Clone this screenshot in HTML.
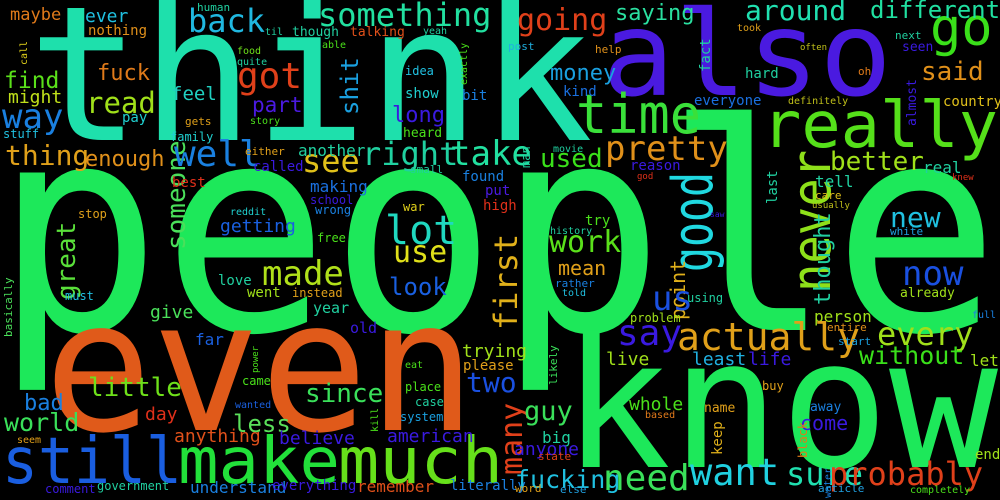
<!DOCTYPE html>
<html><head><meta charset="utf-8"><style>
html,body{margin:0;padding:0;background:#000;overflow:hidden;}
svg{display:block}
text{font-family:"DejaVu Sans Mono","Liberation Mono",monospace;}
</style></head><body>
<svg width="1000" height="500" viewBox="0 0 1000 500">
<rect width="1000" height="500" fill="#000"/>
<g>
<text x="-6" y="330" font-size="288" fill="#1de85a" textLength="1006" lengthAdjust="spacingAndGlyphs">people</text>
<text x="28" y="140" font-size="188" fill="#1ee0ac" textLength="565" lengthAdjust="spacingAndGlyphs">think</text>
<text x="562" y="467" font-size="180" fill="#1de85a" textLength="436" lengthAdjust="spacingAndGlyphs">know</text>
<text x="44" y="430" font-size="182" fill="#e05a1a" textLength="432" lengthAdjust="spacingAndGlyphs">even</text>
<text x="602" y="95" font-size="118" fill="#4a1ae0" textLength="290" lengthAdjust="spacingAndGlyphs">also</text>
<text x="762" y="147" font-size="64" fill="#55e01a" textLength="236" lengthAdjust="spacingAndGlyphs">really</text>
<text x="2" y="483" font-size="64" fill="#1a5ee0" textLength="180" lengthAdjust="spacingAndGlyphs">still</text>
<text x="178" y="483" font-size="64" fill="#22e03a" textLength="162" lengthAdjust="spacingAndGlyphs">make</text>
<text x="338" y="483" font-size="64" fill="#66e01a" textLength="165" lengthAdjust="spacingAndGlyphs">much</text>
<text x="576" y="133" font-size="54" fill="#3ae03a" textLength="125" lengthAdjust="spacingAndGlyphs">time</text>
<text transform="translate(830,292) rotate(-90)" font-size="54" fill="#8ee01a" textLength="142" lengthAdjust="spacingAndGlyphs">never</text>
<text transform="translate(712,272) rotate(-90)" font-size="56" fill="#20d8e0" textLength="100" lengthAdjust="spacingAndGlyphs">good</text>
<text x="930" y="45" font-size="52" fill="#3ae01a">go</text>
<text transform="translate(517,330) rotate(-90)" font-size="32" fill="#e0b01a">first</text>
<text transform="translate(522,475) rotate(-90)" font-size="30" fill="#e0401a">many</text>
<text transform="translate(185,250) rotate(-90)" font-size="26" fill="#4ae05a">someone</text>
<text transform="translate(75,300) rotate(-90)" font-size="26" fill="#5ae03a">great</text>
</g>
<g>
<text x="10" y="20" font-size="17" fill="#e07a1a">maybe</text>
<text x="85" y="22" font-size="18" fill="#20c0e0">ever</text>
<text x="88" y="35" font-size="14" fill="#e0901a">nothing</text>
<text x="197" y="11" font-size="11" fill="#20d0a0">human</text>
<text x="188" y="32" font-size="32" fill="#20b8e0">back</text>
<text x="318" y="26" font-size="32" fill="#22e0a0">something</text>
<text x="237" y="88" font-size="36" fill="#e0401a">got</text>
<text x="292" y="36" font-size="13" fill="#20d0a0">though</text>
<text x="350" y="36" font-size="13" fill="#e0501a">talking</text>
<text x="265" y="35" font-size="10" fill="#20d0a0">til</text>
<text x="423" y="34" font-size="10" fill="#20d0a0">yeah</text>
<text x="237" y="54" font-size="10" fill="#6ee01a">food</text>
<text x="237" y="65" font-size="10" fill="#20d0a0">quite</text>
<text x="322" y="48" font-size="10" fill="#4ae01a">able</text>
<text x="4" y="88" font-size="23" fill="#5ae01a">find</text>
<text x="97" y="80" font-size="22" fill="#e07a1a">fuck</text>
<text transform="translate(27,65) rotate(-90)" font-size="10" fill="#e0d01a">call</text>
<text x="8" y="103" font-size="18" fill="#c0e01a">might</text>
<text x="86" y="113" font-size="29" fill="#a0e01a">read</text>
<text x="2" y="128" font-size="34" fill="#1a80e0">way</text>
<text x="171" y="100" font-size="19" fill="#20d0c0">feel</text>
<text x="252" y="112" font-size="21" fill="#4a1ae0">part</text>
<text transform="translate(358,115) rotate(-90)" font-size="24" fill="#1aa0e0">shit</text>
<text x="392" y="122" font-size="22" fill="#3a1ae0">long</text>
<text x="405" y="98" font-size="14" fill="#20d0d0">show</text>
<text x="462" y="100" font-size="14" fill="#1a80e0">bit</text>
<text x="405" y="75" font-size="12" fill="#20c0e0">idea</text>
<text transform="translate(467,85) rotate(-90)" font-size="10" fill="#4ae01a">exactly</text>
<text x="122" y="122" font-size="14" fill="#20d0d0">pay</text>
<text x="3" y="138" font-size="12" fill="#20c0e0">stuff</text>
<text x="185" y="125" font-size="11" fill="#e0a01a">gets</text>
<text x="170" y="141" font-size="12" fill="#20d0d0">family</text>
<text x="250" y="124" font-size="10" fill="#4ae01a">story</text>
<text x="403" y="137" font-size="13" fill="#4ae01a">heard</text>
<text x="5" y="165" font-size="28" fill="#e0a01a">thing</text>
<text x="85" y="166" font-size="22" fill="#e0901a">enough</text>
<text x="174" y="166" font-size="36" fill="#1a80e0">well</text>
<text x="302" y="172" font-size="32" fill="#e0c01a">see</text>
<text x="362" y="165" font-size="32" fill="#20d0a0">right</text>
<text x="450" y="165" font-size="34" fill="#22e0a0">take</text>
<text x="245" y="155" font-size="11" fill="#e0a01a">either</text>
<text x="298" y="156" font-size="16" fill="#20d0a0">another</text>
<text x="253" y="171" font-size="14" fill="#3a1ae0">called</text>
<text x="172" y="187" font-size="14" fill="#e0301a">best</text>
<text x="310" y="192" font-size="16" fill="#1a70e0">making</text>
<text x="410" y="173" font-size="11" fill="#20d0a0">small</text>
<text x="462" y="181" font-size="14" fill="#1a80e0">found</text>
<text x="485" y="195" font-size="14" fill="#4a1ae0">put</text>
<text x="483" y="210" font-size="14" fill="#e0301a">high</text>
<text x="310" y="204" font-size="12" fill="#3a1ae0">school</text>
<text x="315" y="214" font-size="12" fill="#1a80e0">wrong</text>
<text x="230" y="215" font-size="10" fill="#20d0d0">reddit</text>
<text x="403" y="211" font-size="12" fill="#e0d01a">war</text>
<text x="78" y="218" font-size="12" fill="#e0a01a">stop</text>
<text x="220" y="232" font-size="18" fill="#1a60e0">getting</text>
<text x="317" y="242" font-size="12" fill="#4ae01a">free</text>
<text x="385" y="244" font-size="40" fill="#20d8c0">lot</text>
<text x="517" y="30" font-size="30" fill="#e0401a">going</text>
<text x="615" y="20" font-size="22" fill="#2ae0a0">saying</text>
<text x="745" y="20" font-size="28" fill="#20e0b0">around</text>
<text x="870" y="18" font-size="24" fill="#20e0a0">different</text>
<text x="508" y="50" font-size="11" fill="#20b0e0">post</text>
<text x="595" y="53" font-size="11" fill="#e0901a">help</text>
<text x="737" y="31" font-size="10" fill="#e0a01a">took</text>
<text x="895" y="39" font-size="11" fill="#20d0a0">next</text>
<text x="902" y="51" font-size="13" fill="#3a1ae0">seen</text>
<text transform="translate(710,72) rotate(-90)" font-size="14" fill="#20d0a0">fact</text>
<text x="550" y="80" font-size="22" fill="#1aa0e0">money</text>
<text x="745" y="78" font-size="14" fill="#20d0a0">hard</text>
<text x="858" y="75" font-size="11" fill="#e07a1a">oh</text>
<text x="921" y="80" font-size="26" fill="#e0901a">said</text>
<text x="563" y="96" font-size="14" fill="#1a70e0">kind</text>
<text x="800" y="50" font-size="9" fill="#c0c01a">often</text>
<text transform="translate(916,126) rotate(-90)" font-size="13" fill="#3a1ae0">almost</text>
<text x="694" y="105" font-size="14" fill="#1a70e0">everyone</text>
<text x="788" y="104" font-size="10" fill="#c0c01a">definitely</text>
<text x="943" y="106" font-size="14" fill="#e0c01a">country</text>
<text x="605" y="160" font-size="34" fill="#e0901a">pretty</text>
<text x="540" y="167" font-size="26" fill="#3ae01a">used</text>
<text x="553" y="152" font-size="10" fill="#20d0a0">movie</text>
<text x="630" y="170" font-size="14" fill="#3a1ae0">reason</text>
<text transform="translate(530,168) rotate(-90)" font-size="12" fill="#20d0a0">man</text>
<text x="637" y="179" font-size="9" fill="#e0301a">god</text>
<text x="830" y="170" font-size="26" fill="#a0e01a">better</text>
<text x="923" y="173" font-size="16" fill="#20d0a0">real</text>
<text x="815" y="187" font-size="16" fill="#20d0a0">tell</text>
<text transform="translate(777,204) rotate(-90)" font-size="14" fill="#20d0a0">last</text>
<text x="952" y="180" font-size="9" fill="#e0301a">knew</text>
<text x="815" y="199" font-size="11" fill="#e0c01a">care</text>
<text x="812" y="208" font-size="9" fill="#c0c01a">usually</text>
<text x="710" y="217" font-size="8" fill="#3a1ae0">saw</text>
<text x="890" y="227" font-size="28" fill="#20c0e0">new</text>
<text x="890" y="235" font-size="11" fill="#20a0e0">white</text>
<text x="585" y="225" font-size="14" fill="#4ae01a">try</text>
<text x="550" y="234" font-size="10" fill="#20d0a0">history</text>
<text x="549" y="252" font-size="30" fill="#5ae01a">work</text>
<text x="393" y="262" font-size="30" fill="#e0e01a">use</text>
<text x="389" y="295" font-size="24" fill="#1a60e0">look</text>
<text x="262" y="285" font-size="34" fill="#b0e01a">made</text>
<text x="218" y="285" font-size="14" fill="#20d0a0">love</text>
<text x="65" y="300" font-size="12" fill="#20c0e0">must</text>
<text x="247" y="297" font-size="14" fill="#a0e01a">went</text>
<text x="292" y="297" font-size="12" fill="#e0a01a">instead</text>
<text x="150" y="318" font-size="18" fill="#4ae05a">give</text>
<text x="313" y="313" font-size="15" fill="#20d0a0">year</text>
<text x="350" y="333" font-size="15" fill="#3a1ae0">old</text>
<text transform="translate(12,337) rotate(-90)" font-size="11" fill="#4ae05a">basically</text>
<text x="195" y="345" font-size="16" fill="#1a60e0">far</text>
<text transform="translate(258,373) rotate(-90)" font-size="9" fill="#4ae01a">power</text>
<text x="462" y="357" font-size="18" fill="#a0e01a">trying</text>
<text x="463" y="370" font-size="14" fill="#e0a01a">please</text>
<text x="405" y="368" font-size="10" fill="#4ae01a">eat</text>
<text x="242" y="385" font-size="12" fill="#4ae01a">came</text>
<text x="405" y="391" font-size="12" fill="#4ae01a">place</text>
<text x="88" y="396" font-size="26" fill="#6ee01a">little</text>
<text x="305" y="402" font-size="26" fill="#3ae05a">since</text>
<text x="466" y="392" font-size="28" fill="#1a50e0">two</text>
<text x="24" y="410" font-size="22" fill="#1a80e0">bad</text>
<text x="415" y="406" font-size="12" fill="#20d0a0">case</text>
<text x="235" y="408" font-size="10" fill="#1a60e0">wanted</text>
<text x="145" y="420" font-size="18" fill="#e0301a">day</text>
<text x="400" y="421" font-size="12" fill="#1aa0e0">system</text>
<text x="4" y="431" font-size="25" fill="#3ae05a">world</text>
<text x="233" y="432" font-size="24" fill="#5ae05a">less</text>
<text transform="translate(378,432) rotate(-90)" font-size="10" fill="#4ae01a">kill</text>
<text x="174" y="442" font-size="18" fill="#e0501a">anything</text>
<text x="279" y="444" font-size="18" fill="#3a1ae0">believe</text>
<text x="387" y="442" font-size="18" fill="#3a1ae0">american</text>
<text x="17" y="443" font-size="10" fill="#e0a01a">seem</text>
<text x="45" y="493" font-size="12" fill="#3a1ae0">comment</text>
<text x="97" y="490" font-size="12" fill="#20d0a0">government</text>
<text x="190" y="493" font-size="16" fill="#1a80e0">understand</text>
<text x="272" y="490" font-size="14" fill="#3a1ae0">everything</text>
<text x="357" y="492" font-size="16" fill="#e0501a">remember</text>
<text x="450" y="490" font-size="14" fill="#1a80e0">literally</text>
<text x="558" y="275" font-size="20" fill="#e0a01a">mean</text>
<text x="555" y="287" font-size="11" fill="#1a80e0">rather</text>
<text x="562" y="296" font-size="10" fill="#20c0e0">told</text>
<text transform="translate(685,320) rotate(-90)" font-size="20" fill="#e0b01a">point</text>
<text x="652" y="310" font-size="34" fill="#1a50e0">us</text>
<text x="687" y="302" font-size="12" fill="#20d0a0">using</text>
<text x="902" y="285" font-size="34" fill="#1a50e0">now</text>
<text x="900" y="297" font-size="13" fill="#a0e01a">already</text>
<text transform="translate(830,305) rotate(-90)" font-size="22" fill="#20d0a0">thought</text>
<text x="630" y="322" font-size="12" fill="#a0e01a">problem</text>
<text x="814" y="322" font-size="16" fill="#a0e01a">person</text>
<text x="827" y="331" font-size="11" fill="#e0901a">entire</text>
<text x="972" y="318" font-size="10" fill="#1a80e0">full</text>
<text x="617" y="345" font-size="36" fill="#3a1ae0">say</text>
<text x="677" y="350" font-size="38" fill="#e0a01a">actually</text>
<text x="877" y="345" font-size="32" fill="#a0e01a">every</text>
<text x="838" y="345" font-size="11" fill="#1aa0e0">start</text>
<text transform="translate(557,385) rotate(-90)" font-size="11" fill="#3ae05a">likely</text>
<text x="606" y="365" font-size="18" fill="#a0e01a">live</text>
<text x="692" y="365" font-size="18" fill="#20b0e0">least</text>
<text x="748" y="365" font-size="18" fill="#3a1ae0">life</text>
<text x="859" y="364" font-size="25" fill="#3ae01a">without</text>
<text x="970" y="366" font-size="16" fill="#a0e01a">let</text>
<text x="762" y="390" font-size="12" fill="#e0a01a">buy</text>
<text x="629" y="410" font-size="18" fill="#4ae01a">whole</text>
<text x="645" y="418" font-size="10" fill="#e07a1a">based</text>
<text x="704" y="412" font-size="13" fill="#e0a01a">name</text>
<text x="810" y="411" font-size="13" fill="#1a80e0">away</text>
<text x="800" y="430" font-size="20" fill="#3a1ae0">come</text>
<text x="524" y="420" font-size="27" fill="#3ae05a">guy</text>
<text transform="translate(722,455) rotate(-90)" font-size="14" fill="#e0b01a">keep</text>
<text transform="translate(807,458) rotate(-90)" font-size="12" fill="#e07a1a">black</text>
<text x="542" y="443" font-size="16" fill="#20d0a0">big</text>
<text x="514" y="455" font-size="18" fill="#3a1ae0">anyone</text>
<text x="538" y="460" font-size="11" fill="#e0401a">state</text>
<text x="975" y="459" font-size="14" fill="#a0e01a">end</text>
<text x="515" y="488" font-size="25" fill="#20c0e0">fucking</text>
<text x="603" y="490" font-size="36" fill="#3ae05a">need</text>
<text x="690" y="485" font-size="37" fill="#20d0e0">want</text>
<text x="786" y="485" font-size="32" fill="#20e0b0">sure</text>
<text x="829" y="485" font-size="32" fill="#e0401a">probably</text>
<text transform="translate(831,498) rotate(-90)" font-size="10" fill="#1a80e0">water</text>
<text x="818" y="492" font-size="11" fill="#20a0e0">article</text>
<text x="910" y="493" font-size="10" fill="#4ae01a">completely</text>
<text x="515" y="492" font-size="11" fill="#e0a01a">word</text>
<text x="560" y="493" font-size="11" fill="#20a0e0">else</text>
</g>
</svg>
</body></html>
